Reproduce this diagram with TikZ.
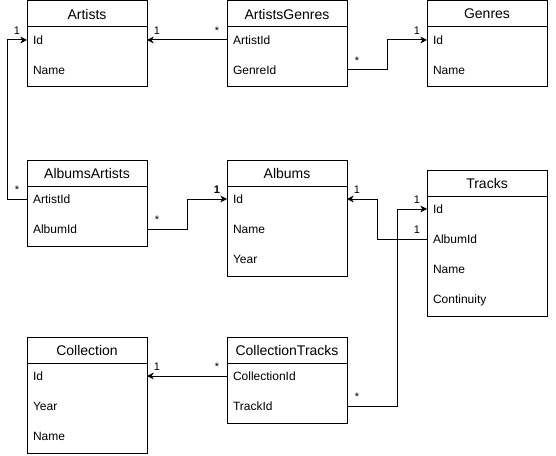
\documentclass[tikz,border=0pt]{standalone}
\usepackage{fontspec}
\setmainfont{Liberation Sans}
\usetikzlibrary{positioning, calc, arrows.meta}
\tikzstyle{Link} = [
%Connector between two tables:
line width = 0.75pt,
-{Stealth[length = 5pt, width = 5pt, inset = 1.5pt]}
]

\begin{document}
\begin{tikzpicture}[
				x = 0.75pt, y = -0.75pt,
				title/.style = {rectangle, draw, line width = 0.75pt, outer sep = 0pt, minimum width = 90pt, minimum height = 19.5pt, inner sep = 0pt, anchor = north, font = \fontsize{10.5}{12}\selectfont},
				field/.style = {rectangle, outer sep = 0pt, text width = 81pt, inner xsep = 4.5pt, inner ysep = 0pt, minimum height = 22.5pt, align = left, text height = 1.5ex, text depth = .25ex, font = \fontsize{9}{11}\selectfont},
				frame/.style = {draw, line width = 0.75pt},
				card/.style = {anchor = south, inner sep = 0pt, yshift = 3.75pt, text height = 0.72em, text depth = 0pt, font = \fontsize{8.25}{10}\selectfont},
				cardL/.style = {card, xshift = -7.5pt},
				cardR/.style = {card, xshift = 7.5pt},
			]
			\useasboundingbox (0,0) rectangle (556,456);

			\node[title](artists) at (87,1){Artists};
			\node[field, below = -1.5pt of artists](artists-id){Id};
			\node[field, below = 0pt of artists-id](artists-name){Name};
			\draw[frame](artists.north west) rectangle ([yshift = -1.5pt]artists-name.south east);

			\node[title](ag) at (287,1){ArtistsGenres};
			\node[field, below = -1.5pt of ag](ag-artistid){ArtistId};
			\node[field, below = 0pt of ag-artistid](ag-genreid){GenreId};
			\draw[frame](ag.north west) rectangle ([yshift = -1.5pt]ag-genreid.south east);

			\node[title](genres) at (487,1){Genres};
			\node[field, below = -1.5pt of genres](genres-id){Id};
			\node[field, below = 0pt of genres-id](genres-name){Name};
			\draw[frame](genres.north west) rectangle ([yshift = -1.5pt]genres-name.south east);

			\node[title](aa) at (87,160){AlbumsArtists};
			\node[field, below = -1.5pt of aa](aa-artistid){ArtistId};
			\node[field, below = 0pt of aa-artistid](aa-albumid){AlbumId};
			\draw[frame](aa.north west) rectangle ([yshift = -1.5pt]aa-albumid.south east);

			\node[title](albums) at (287,160){Albums};
			\node[field, below = -1.5pt of albums](albums-id){Id};
			\node[field, below = 0pt of albums-id](albums-name){Name};
			\node[field, below = 0pt of albums-name](albums-year){Year};
			\draw[frame](albums.north west) rectangle ([yshift = -1.5pt]albums-year.south east);

			\node[title](tracks) at (487,170){Tracks};
			\node[field, below = -1.5pt of tracks](tracks-id){Id};
			\node[field, below = 0pt of tracks-id](tracks-albumid){AlbumId};
			\node[field, below = 0pt of tracks-albumid](tracks-name){Name};
			\node[field, below = 0pt of tracks-name](tracks-continuity){Continuity};
			\draw[frame](tracks.north west) rectangle ([yshift = -1.5pt]tracks-continuity.south east);

			\node[title](collection) at (87,337){Collection};
			\node[field, below = -1.5pt of collection](collection-id){Id};
			\node[field, below = 0pt of collection-id](collection-year){Year};
			\node[field, below = 0pt of collection-year](collection-name){Name};
			\draw[frame](collection.north west) rectangle ([yshift = -1.5pt]collection-name.south east);

			\node[title](ct) at (287,337){CollectionTracks};
			\node[field, below = -1.5pt of ct](ct-collectionid){CollectionId};
			\node[field, below = 0pt of ct-collectionid](ct-trackid){TrackId};
			\draw[frame](ct.north west) rectangle ([yshift = -1.5pt]ct-trackid.south east);

			\draw[Link](ag-artistid.west)--node[at start, cardL]{*} node[at end, cardR]{1}(artists-id.east);
			\draw[Link](ag-genreid.east)--node[at start, cardR]{*} ++(40,0) |- node[at end, cardL]{1}(genres-id.west);
			\draw[Link](aa-artistid.west)--node[at start, cardL]{*} ++(-20,0) |- node[at end, cardL]{1}(artists-id.west);
			\draw[Link](aa-albumid.east)--node[at start, cardR]{*} ++(40,0) |- node[at end, cardL]{\textbf{1}}(albums-id.west);
			\draw[Link](tracks-albumid.west)--node[at start, cardL]{1} ++(-50,0) |- node[at end, cardR]{1}(albums-id.east);
			\draw[Link](ct-trackid.east)--node[at start, cardR]{*} ++(50,0) |- node[at end, cardL]{1}(tracks-id.west);
			\draw[Link](ct-collectionid.west)--node[at start, cardL]{*} node[at end, cardR]{1}(collection-id.east);

		\end{tikzpicture}
\end{document}
